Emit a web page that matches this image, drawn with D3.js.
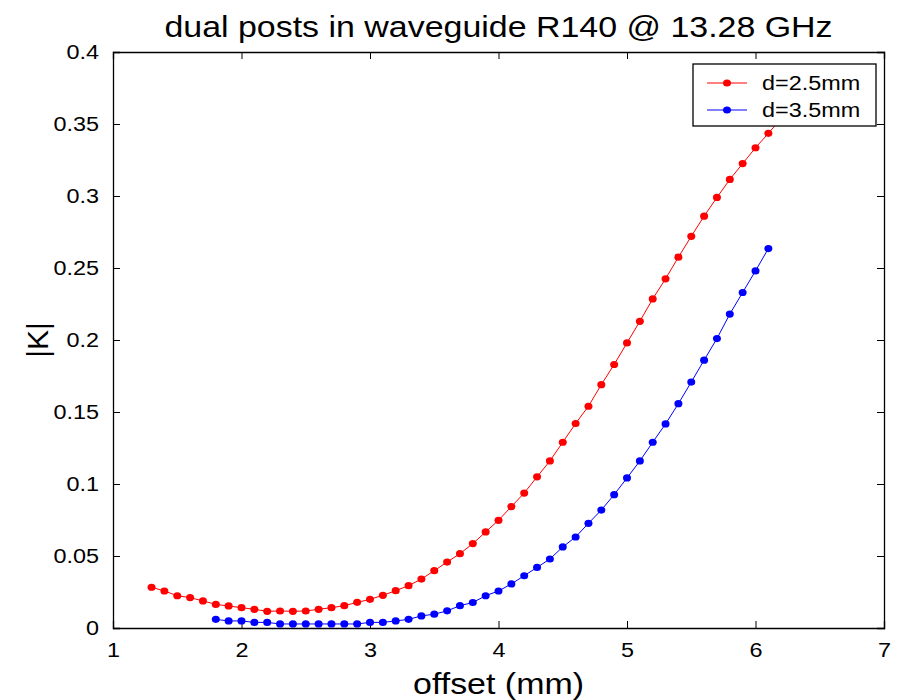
<!DOCTYPE html>
<html>
<head>
<meta charset="utf-8">
<script src="https://cdn.jsdelivr.net/npm/d3@7"></script>
<style>
  body { margin: 0; background: #fff; }
  text { font-family: "Liberation Sans", Arial, sans-serif; fill: #000; }
</style>
</head>
<body>
<div id="content"></div>
<script>
// offsets (mm)
const xRed = d3.range(13, 63).map(d => d / 10);   // 1.3 .. 6.2
const xBlue = d3.range(18, 62).map(d => d / 10);  // 1.8 .. 6.1

const kRed = [
  0.0283, 0.0257, 0.0224, 0.0211, 0.0188, 0.0164, 0.0153, 0.0141, 0.0130, 0.0116,
  0.0118, 0.0116, 0.0118, 0.0130, 0.0141, 0.0155, 0.0178, 0.0199, 0.0227, 0.0259,
  0.0294, 0.0340, 0.0398, 0.0458, 0.0516, 0.0586, 0.0667, 0.0748, 0.0843, 0.0937,
  0.1050, 0.1160, 0.1290, 0.1420, 0.1540, 0.1690, 0.1830, 0.1980, 0.2130, 0.2285,
  0.2425, 0.2575, 0.2720, 0.2860, 0.2990, 0.3115, 0.3225, 0.3335, 0.3435, 0.3540
];
const kBlue = [
  0.0060, 0.0049, 0.0049, 0.0039, 0.0039, 0.0028, 0.0028, 0.0028, 0.0028, 0.0028,
  0.0028, 0.0028, 0.0039, 0.0039, 0.0049, 0.0060, 0.0084, 0.0096, 0.0119, 0.0155,
  0.0177, 0.0224, 0.0257, 0.0306, 0.0363, 0.0421, 0.0479, 0.0563, 0.0632, 0.0727,
  0.0819, 0.0926, 0.1042, 0.1160, 0.1290, 0.1417, 0.1558, 0.1708, 0.1860, 0.2010,
  0.2180, 0.2330, 0.2480, 0.2635
];

const xTicks = [1, 2, 3, 4, 5, 6, 7];
const yTicks = [0, 0.05, 0.1, 0.15, 0.2, 0.25, 0.3, 0.35, 0.4];

const series = [
  {name: 'd=2.5mm', color: '#ff0000', xs: xRed, ys: kRed},
  {name: 'd=3.5mm', color: '#0000ff', xs: xBlue, ys: kBlue}
];

const width = 905, height = 700;
const margin = {left: 113, right: 21, top: 52, bottom: 72};

// the original figure is stretched sideways, so horizontal text is widened
const STRETCH = 1.17;
function widen(sel, f) {
  sel.each(function() {
    const w = this.getComputedTextLength();
    d3.select(this).attr('textLength', w * (f || STRETCH)).attr('lengthAdjust', 'spacingAndGlyphs');
  });
}

const svg = d3.select('#content').append('svg')
  .attr('width', width)
  .attr('height', height);

const x = d3.scaleLinear().domain([1, 7]).range([margin.left, width - margin.right]);
const y = d3.scaleLinear().domain([0, 0.4]).range([height - margin.bottom, margin.top]);

const tickLen = 7;

svg.append('clipPath').attr('id', 'clip')
  .append('rect')
  .attr('x', margin.left).attr('y', margin.top)
  .attr('width', x(7) - x(1)).attr('height', y(0) - y(0.4));

// axes with inward ticks on all four sides
svg.append('g')
  .attr('transform', `translate(0,${y(0)})`)
  .call(d3.axisBottom(x).tickValues(xTicks).tickFormat(d3.format('d')).tickSize(-tickLen).tickPadding(15));

svg.append('g')
  .attr('transform', `translate(0,${y(0.4)})`)
  .call(d3.axisTop(x).tickValues(xTicks).tickFormat('').tickSize(-tickLen));

svg.append('g')
  .attr('transform', `translate(${x(1)},0)`)
  .call(d3.axisLeft(y).tickValues(yTicks).tickFormat(d => String(d)).tickSize(-tickLen).tickPadding(14));

svg.append('g')
  .attr('transform', `translate(${x(7)},0)`)
  .call(d3.axisRight(y).tickValues(yTicks).tickFormat('').tickSize(-tickLen));

svg.selectAll('.domain').attr('stroke-width', 1.3);
svg.selectAll('g').attr('font-size', null).attr('font-family', null);
svg.selectAll('.tick text')
  .style('font-size', '20px')
  .style('font-family', '"Liberation Sans", Arial, sans-serif');
widen(svg.selectAll('.tick text'));

// series
const line = d3.line().x(d => x(d[0])).y(d => y(d[1]));
const plot = svg.append('g').attr('clip-path', 'url(#clip)');

series.forEach(s => {
  const pts = s.xs.map((v, i) => [v, s.ys[i]]);
  plot.append('path')
    .datum(pts)
    .attr('fill', 'none')
    .attr('stroke', s.color)
    .attr('stroke-width', 1)
    .attr('d', line);
  plot.selectAll(null)
    .data(pts)
    .enter().append('ellipse')
    .attr('cx', d => x(d[0]))
    .attr('cy', d => y(d[1]))
    .attr('rx', 4)
    .attr('ry', 3.6)
    .attr('fill', s.color);
});

// legend
const legend = svg.append('g').attr('transform', 'translate(693,64)');
legend.append('rect')
  .attr('width', 183).attr('height', 62)
  .attr('fill', '#fff').attr('stroke', '#000').attr('stroke-width', 1.3);

series.forEach((s, i) => {
  const ly = 19 + i * 27;
  legend.append('line')
    .attr('x1', 14).attr('x2', 54).attr('y1', ly).attr('y2', ly)
    .attr('stroke', s.color).attr('stroke-width', 1);
  legend.append('ellipse')
    .attr('cx', 34).attr('cy', ly).attr('rx', 4).attr('ry', 3.6).attr('fill', s.color);
  legend.append('text')
    .attr('x', 69).attr('y', ly + 7)
    .style('font-size', '20px')
    .text(s.name);
});
widen(legend.selectAll('text'));

// title and axis labels
const title = svg.append('text')
  .attr('x', (x(1) + x(7)) / 2).attr('y', 37)
  .attr('text-anchor', 'middle')
  .style('font-size', '29px')
  .text('dual posts in waveguide R140 @ 13.28 GHz');
widen(title);

const xlab = svg.append('text')
  .attr('x', (x(1) + x(7)) / 2).attr('y', 694)
  .attr('text-anchor', 'middle')
  .style('font-size', '29px')
  .text('offset (mm)');
widen(xlab);

svg.append('text')
  .attr('transform', `translate(48,${(y(0) + y(0.4)) / 2}) rotate(-90)`)
  .attr('text-anchor', 'middle')
  .style('font-size', '30px')
  .text('|K|');
</script>
</body>
</html>
